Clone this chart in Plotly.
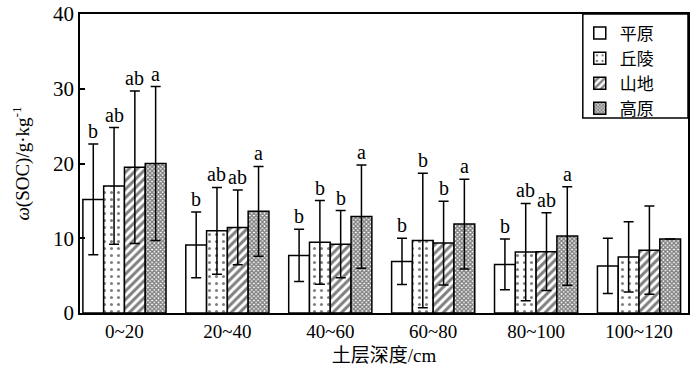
import plotly.graph_objects as go

depths = ["0~20", "20~40", "40~60", "60~80", "80~100", "100~120"]
series_names = ["平原", "丘陵", "山地", "高原"]

mean_pingyuan = [15.2, 9.1, 7.7, 6.9, 6.5, 6.3]
mean_qiuling = [17.0, 11.0, 9.45, 9.7, 8.15, 7.5]
mean_shandi = [19.5, 11.45, 9.2, 9.35, 8.2, 8.4]
mean_gaoyuan = [20.0, 13.6, 12.9, 11.9, 10.3, 9.9]

sd_pingyuan = [7.4, 4.4, 3.5, 3.1, 3.4, 3.7]
sd_qiuling = [7.8, 5.8, 5.6, 9.0, 6.5, 4.7]
sd_shandi = [10.2, 5.0, 4.5, 5.6, 5.2, 5.9]
sd_gaoyuan = [10.3, 6.0, 6.9, 6.0, 6.6, 0.0]

letters_pingyuan = ["b", "b", "b", "b", "b", ""]
letters_qiuling = ["ab", "ab", "b", "b", "ab", ""]
letters_shandi = ["ab", "ab", "b", "b", "ab", ""]
letters_gaoyuan = ["a", "a", "a", "a", "a", ""]

means = [mean_pingyuan, mean_qiuling, mean_shandi, mean_gaoyuan]
sds = [sd_pingyuan, sd_qiuling, sd_shandi, sd_gaoyuan]
letters = [letters_pingyuan, letters_qiuling, letters_shandi, letters_gaoyuan]

patterns = [
    dict(shape=""),
    dict(shape=".", size=7, solidity=0.15, fgcolor="black", bgcolor="white"),
    dict(shape="/", size=6, solidity=0.5, fgcolor="black", bgcolor="white"),
    dict(shape="x", size=3, solidity=0.7, fgcolor="black", bgcolor="white"),
]

FONT = "Liberation Serif, Times New Roman, Noto Sans CJK SC, serif"
xs = list(range(len(depths)))
bar_w = 0.202

fig = go.Figure()
for i, name in enumerate(series_names):
    fig.add_trace(go.Bar(
        x=xs, y=means[i], name=name, width=bar_w,
        offset=(i - 2) * bar_w,
        marker=dict(color="white", line=dict(color="black", width=1.5), pattern=patterns[i]),
        error_y=dict(type="data", array=sds[i], visible=True, color="black", thickness=1.5, width=5),
    ))

annotations = []
for i in range(4):
    for k, x in enumerate(xs):
        if letters[i][k]:
            annotations.append(dict(
                x=x + (i - 1.5) * bar_w, y=means[i][k] + sds[i][k],
                text=letters[i][k], showarrow=False, yanchor="bottom", yshift=0,
                font=dict(family=FONT, size=20, color="black"),
            ))

fig.update_layout(
    width=700, height=376,
    margin=dict(l=80, r=12, t=14, b=63, autoexpand=False),
    plot_bgcolor="white", paper_bgcolor="white",
    font=dict(family=FONT, size=18, color="black"),
    barmode="overlay",
    showlegend=True,
    legend=dict(x=0.822, xanchor="left", y=0.995, yanchor="top",
                borderwidth=0, bgcolor="rgba(0,0,0,0)",
                font=dict(family=FONT, size=17), tracegroupgap=0, itemwidth=30),
    shapes=[dict(type="rect", xref="paper", yref="paper", x0=0.827, x1=1.0, y0=0.652, y1=1.0,
                 line=dict(color="black", width=1.5), fillcolor="rgba(0,0,0,0)", layer="above")],
    annotations=annotations,
    xaxis=dict(range=[-0.432, 5.476], tickvals=xs, ticktext=depths, ticks="",
               showline=True, linecolor="black", linewidth=1.5, mirror=True,
               showgrid=False, zeroline=False, automargin=False,
               title=dict(text="土层深度/cm", font=dict(family=FONT, size=19), standoff=8),
               tickfont=dict(family=FONT, size=19)),
    yaxis=dict(range=[0, 40], tickvals=[0, 10, 20, 30, 40], ticks="inside", ticklen=5,
               tickcolor="black", tickwidth=1.5,
               showline=True, linecolor="black", linewidth=1.5, mirror=True,
               showgrid=False, zeroline=False, automargin=False,
               title=dict(text="<i>ω</i>(SOC)/g·kg<sup>-1</sup>", font=dict(family=FONT, size=19), standoff=18),
               tickfont=dict(family=FONT, size=21)),
)

fig.write_html("out.html", config={"displayModeBar": False},
               post_script="document.body.style.margin='0';")
